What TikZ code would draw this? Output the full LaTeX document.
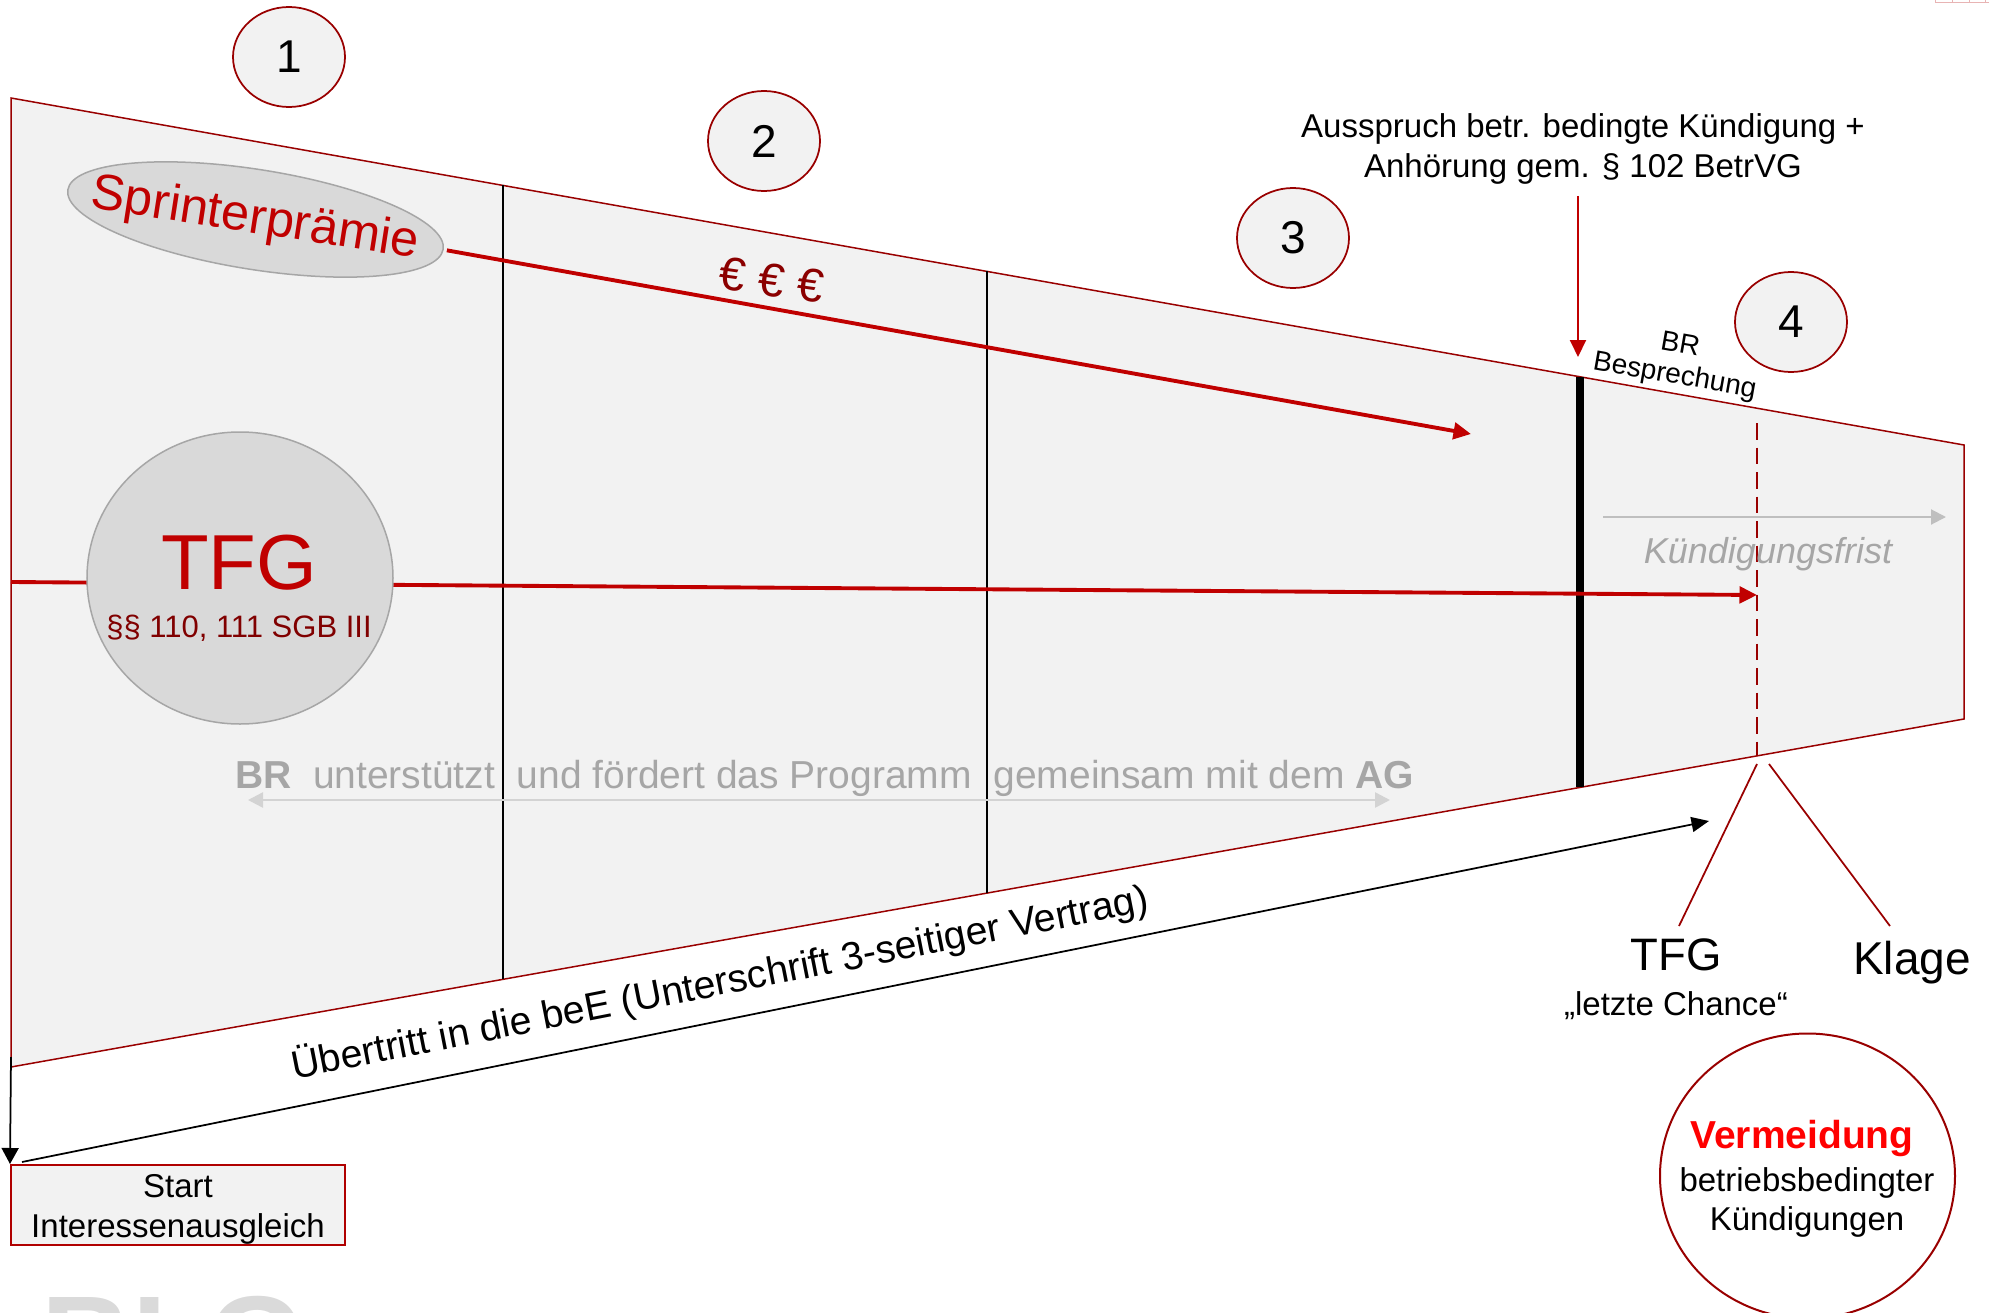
\documentclass[tikz,border=0pt]{standalone}
\usepackage{fontspec}
\setmainfont{Liberation Sans}
\usetikzlibrary{arrows.meta,shapes.geometric,calc}
\definecolor{dred}{HTML}{990000}
\definecolor{ared}{HTML}{C00000}
\definecolor{eured}{HTML}{8B0000}
\definecolor{sgbred}{HTML}{800000}
\definecolor{bgfill}{HTML}{F2F2F2}
\definecolor{ellfill}{HTML}{D9D9D9}
\definecolor{ellline}{HTML}{A6A6A6}
\definecolor{txtgray}{HTML}{A6A6A6}
\definecolor{arrgray}{HTML}{BFBFBF}
\definecolor{lgray}{HTML}{D3D3D3}
\definecolor{vred}{HTML}{FF0000}
\definecolor{wmgray}{HTML}{DADADA}
\definecolor{startred}{HTML}{B00000}
\definecolor{pinkish}{HTML}{E8B4B4}
\tikzset{
  txt/.style={inner sep=0pt, outer sep=0pt},
  numc/.style={ellipse, draw=dred, line width=0.7pt, fill=bgfill,
    minimum width=44.8pt, minimum height=40pt, inner sep=0pt,
    font=\fontsize{18.4}{20}\selectfont},
  greyell/.style={ellipse, draw=ellline, fill=ellfill, line width=0.6pt, inner sep=0pt},
  divider/.style={black, line width=0.9pt},
  redarrow/.style={ared, line width=1.55pt, -{Triangle[length=7pt,width=6.6pt]}},
}
\begin{document}
\begin{tikzpicture}[x=0.4pt,y=-0.4pt]
\useasboundingbox (0,0) rectangle (1989,1313);

% corner artefact
\draw[pinkish, line width=0.4pt] (1935,0) -- (1935,2.5) -- (1995,2.5)
  (1952,0) -- (1952,2.5) (1969,0) -- (1969,2.5) (1985,0) -- (1985,2.5);

% funnel
\coordinate (tl) at (11,98);
\coordinate (tr) at (1964,445);
\coordinate (br) at (1964,719);
\coordinate (bl) at (11,1067);
\draw[dred, line width=0.6pt, fill=bgfill] (tl) -- (tr) -- (br) -- (bl) -- cycle;

% dividers
\coordinate (d1t) at (503,185.4);  \coordinate (d1b) at (503,979.3);
\coordinate (d2t) at (987,271.4);  \coordinate (d2b) at (987,893.1);
\coordinate (d3t) at (1580,376.8); \coordinate (d3b) at (1580,787.4);
\coordinate (d4t) at (1757,423);   \coordinate (d4b) at (1757,755.9);
\draw[divider] (d1t) -- (d1b);
\draw[divider] (d2t) -- (d2b);
\draw[black, line width=3.2pt] (d3t) -- (d3b);
\draw[dred, line width=0.6pt, dash pattern=on 6.6pt off 3.2pt] (d4t) -- (d4b);

% BR support double arrow
\coordinate (brl) at (248,800);
\coordinate (brr) at (1390,800);
\draw[lgray, line width=1pt, {Triangle[length=6pt,width=6pt]}-{Triangle[length=6pt,width=6pt]}] (brl) -- (brr);
\node[txt, text=txtgray, anchor=base west, font=\fontsize{15.6}{18}\selectfont] (brtext) at (235,788)
  {\textbf{BR}\ \ unterstützt\ \ und fördert das Programm\ \ gemeinsam mit dem \textbf{AG}};

% Kuendigungsfrist
\coordinate (kfl) at (1603,517);
\coordinate (kfr) at (1946,517);
\draw[arrgray, line width=0.8pt, -{Triangle[length=6pt,width=6pt]}] (kfl) -- (kfr);
\node[txt, text=txtgray, anchor=base, font=\fontsize{14.4}{16}\selectfont\itshape] (kf) at (1768,563) {Kündigungsfrist};

% TFG red arrow (behind the circle)
\coordinate (tfgstart) at (11,582);
\coordinate (tfgend) at (1757,595);
\draw[redarrow] (tfgstart) -- (tfgend);

% Sprinterpraemie
\node[greyell, minimum width=152pt, minimum height=40pt, rotate=-9] (spr) at (255.5,219.5) {};
\node[txt, text=ared, rotate=-8.8, font=\fontsize{20.2}{22}\selectfont] (sprt) at (255,220) {Sprinterprämie};
\coordinate (eurotip) at (1471,434);
\draw[redarrow] ($(spr.east)+(3,1)$) -- (eurotip);
\node[txt, text=eured, rotate=-8, font=\fontsize{18.8}{20}\selectfont] (euro) at (772,280) {€ € €};

% TFG circle
\node[greyell, minimum width=122.4pt, minimum height=116.8pt] (tfgc) at (240,578) {};
\node[txt, text=ared, anchor=base, font=\fontsize{31.2}{34}\selectfont] (tfgt) at (239,589) {TFG};
\node[txt, text=sgbred, anchor=base, font=\fontsize{12.4}{14}\selectfont] (sgb) at (239,637) {§§ 110, 111 SGB III};

% numbered circles
\node[numc] (n1) at (289,57) {1};
\node[numc] (n2) at (764,141) {2};
\node[numc] (n3) at (1293,238) {3};
\node[numc] (n4) at (1791,322) {4};

% Ausspruch
\node[txt, anchor=base, font=\fontsize{13.2}{16}\selectfont] (aus1) at (1583,137) {Ausspruch betr. bedingte Kündigung +};
\node[txt, anchor=base, font=\fontsize{13.2}{16}\selectfont] (aus2) at (1583,177) {Anhörung gem. § 102 BetrVG};
\coordinate (ausend) at (1578,357);
\draw[ared, line width=0.8pt, -{Triangle[length=6.8pt,width=6.4pt]}] ($(aus2.south)+(-5,12)$) -- (ausend);

% BR Besprechung
\node[txt, rotate=-10, align=center, font=\fontsize{11.2}{12.4}\selectfont] (brb) at (1677.3,361.5) {BR\\Besprechung};

% Start box and arrows
\node[draw=startred, line width=0.8pt, fill=bgfill, minimum width=133.6pt, minimum height=32pt, inner sep=0pt] (start) at (178,1205) {};
\node[txt, anchor=base, font=\fontsize{13.2}{16}\selectfont] (st1) at (178,1197) {Start};
\node[txt, anchor=base, font=\fontsize{13.2}{16}\selectfont] (st2) at (178,1237) {Interessenausgleich};
\coordinate (leftdrop) at (11,1057);
\draw[black, line width=0.7pt, -{Triangle[length=6.4pt,width=6.8pt]}] (leftdrop) -- (start.north west);
\coordinate (uebtip) at (1709,821);
\draw[black, line width=0.7pt, -{Triangle[length=7pt,width=6pt]}] ($(start.north west)+(12,-2)$) -- (uebtip);
\node[txt, anchor=base west, rotate=11.1, font=\fontsize{15.7}{18}\selectfont] (ueb) at (294,1079)
  {Übertritt in die beE (Unterschrift 3-seitiger Vertrag)};

% TFG / Klage fork
\coordinate (fa) at (1757,764);
\coordinate (fb) at (1769,764);
\coordinate (fae) at (1679,926);
\coordinate (fbe) at (1890,926);
\draw[dred, line width=0.7pt] (fa) -- (fae);
\draw[dred, line width=0.7pt] (fb) -- (fbe);
\node[txt, anchor=base, font=\fontsize{18.2}{20}\selectfont] (tfgb) at (1676,970) {TFG};
\node[txt, anchor=base, font=\fontsize{13.2}{16}\selectfont] (chance) at (1676,1015) {„letzte Chance“};
\node[txt, anchor=base, font=\fontsize{18.4}{20}\selectfont] (klage) at (1912,974) {Klage};

% Vermeidung circle and watermark
\begin{scope}
\clip (0,0) rectangle (1989,1313);
\node[ellipse, draw=dred, line width=0.8pt, fill=white, minimum width=118pt, minimum height=114pt] (verm) at (1807.5,1176) {};
\node[txt, anchor=base west, text=wmgray, font=\fontsize{50}{54}\selectfont\bfseries] (wm) at (42,1383) {BLG};
\end{scope}
\node[txt, anchor=base, text=vred, font=\fontsize{15.6}{18}\selectfont\bfseries] (v1) at (1802,1148) {Vermeidung};
\node[txt, anchor=base, font=\fontsize{13.2}{16}\selectfont] (v2) at (1807,1191) {betriebsbedingter};
\node[txt, anchor=base, font=\fontsize{13.2}{16}\selectfont] (v3) at (1807,1230) {Kündigungen};
\end{tikzpicture}
\end{document}
